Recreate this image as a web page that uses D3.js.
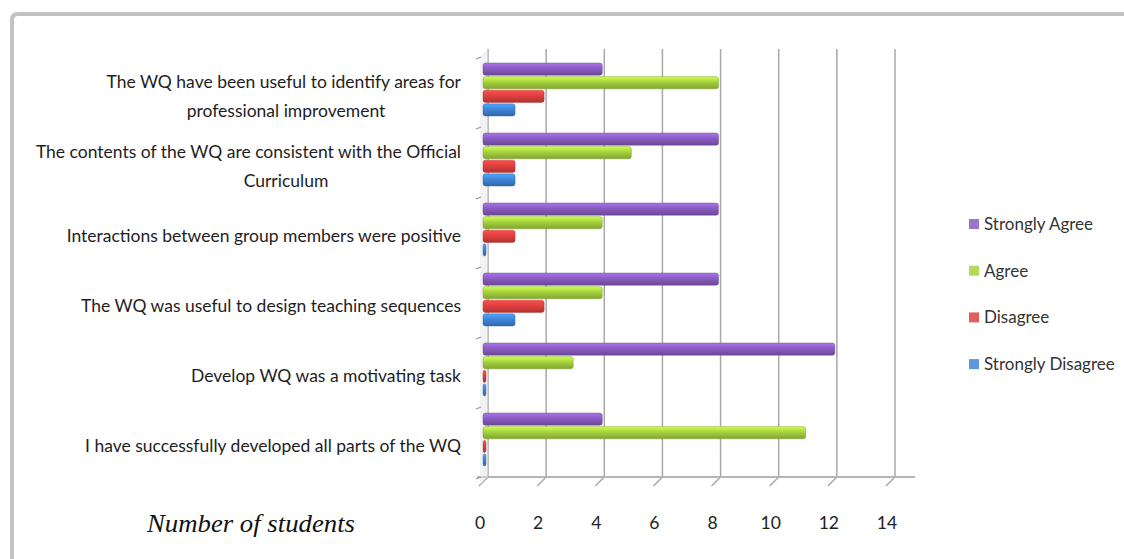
<!DOCTYPE html>
<html>
<head>
<meta charset="utf-8">
<script src="https://cdn.jsdelivr.net/npm/d3@7"></script>
<style>
  body { margin: 0; background: #fff; }
  svg { display: block; }
</style>
</head>
<body>
<svg id="chart" width="1124" height="559"></svg>
<script>
// categories, top to bottom (each entry = lines of the label)
const categories = [
  ["The WQ have been useful to identify areas for", "professional improvement"],
  ["The contents of the WQ are consistent with the Official", "Curriculum"],
  ["Interactions between group members were positive"],
  ["The WQ was useful to design teaching sequences"],
  ["Develop WQ was a motivating task"],
  ["I have successfully developed all parts of the WQ"]
];
const seriesNames = ["Strongly Agree", "Agree", "Disagree", "Strongly Disagree"];
const stronglyAgree = [4, 8, 8, 8, 12, 4];
const agree = [8, 5, 4, 4, 3, 11];
const disagree = [2, 1, 1, 2, 0, 0];
const stronglyDisagree = [1, 1, 0, 1, 0, 0];
const xTicks = [0, 2, 4, 6, 8, 10, 12, 14];
const colors = ["#8a5cc2", "#a6d23f", "#e0403f", "#3f86d8"];

const seriesValues = [stronglyAgree, agree, disagree, stronglyDisagree];

const svg = d3.select("#chart");
const top_y = 57, bottom_y = 477;
const depth = 5; // fake 3d offset

// outer frame
svg.append("path")
  .attr("d", "M12,559 L12,20 Q12,14 18,14 L1124,14")
  .attr("fill", "none")
  .attr("stroke", "#c2c2c2")
  .attr("stroke-width", 4);

const x = d3.scaleLinear().domain([0, 14]).range([483, 483 + 14 * 29.07]);
const y = d3.scaleBand().domain(d3.range(categories.length)).range([top_y, bottom_y]);
const yInner = d3.scaleBand().domain(d3.range(seriesNames.length))
  .range([6, y.bandwidth() - 11]).paddingInner(0.1);

// gradients for bar shading
const defs = svg.append("defs");
colors.forEach((c, i) => {
  const g = defs.append("linearGradient").attr("id", "grad" + i)
    .attr("x1", 0).attr("y1", 0).attr("x2", 0).attr("y2", 1);
  g.append("stop").attr("offset", "0%").attr("stop-color", d3.color(c).brighter(0.6));
  g.append("stop").attr("offset", "45%").attr("stop-color", c);
  g.append("stop").attr("offset", "100%").attr("stop-color", d3.color(c).darker(0.7));
});

// gridlines (back wall) + slanted floor ticks
const grid = svg.append("g");
grid.selectAll("line.v")
  .data(xTicks.slice(1))
  .join("line")
  .attr("x1", d => x(d) + depth).attr("x2", d => x(d) + depth)
  .attr("y1", top_y - 8).attr("y2", bottom_y)
  .attr("stroke", "#a8a8a8").attr("stroke-width", 1.5);
grid.selectAll("line.s")
  .data(xTicks)
  .join("line")
  .attr("x1", d => x(d) - 4).attr("x2", d => x(d) + depth)
  .attr("y1", bottom_y + 9).attr("y2", bottom_y)
  .attr("stroke", "#a8a8a8").attr("stroke-width", 1.5);

// floor line
svg.append("line")
  .attr("x1", x(0) - 6).attr("x2", 915)
  .attr("y1", bottom_y).attr("y2", bottom_y)
  .attr("stroke", "#b5b5b5").attr("stroke-width", 2);

// left wall / axis
svg.append("line")
  .attr("x1", x(0) + depth).attr("x2", x(0) + depth)
  .attr("y1", top_y - 8).attr("y2", bottom_y)
  .attr("stroke", "#a8a8a8").attr("stroke-width", 1.5);
svg.append("polygon")
  .attr("points", [[x(0) - 3, bottom_y + 8], [x(0) + depth, bottom_y], [x(0) + depth, top_y - 8], [x(0) - 3, top_y]].join(" "))
  .attr("fill", "#e6e6e6").attr("opacity", 0.5);
svg.selectAll("line.yt")
  .data(d3.range(categories.length + 1))
  .join("line")
  .attr("x1", x(0) - 7).attr("x2", x(0) - 2)
  .attr("y1", d => top_y + d * y.bandwidth() + 2)
  .attr("y2", d => top_y + d * y.bandwidth())
  .attr("stroke", "#999").attr("stroke-width", 1.2);

// bars
const groups = svg.append("g").selectAll("g")
  .data(categories.map((c, i) => i))
  .join("g")
  .attr("transform", i => `translate(0,${y(i)})`);

groups.selectAll("rect")
  .data(i => seriesValues.map((vals, s) => ({ s: s, v: vals[i] })))
  .join("rect")
  .attr("x", x(0))
  .attr("y", d => yInner(d.s))
  .attr("width", d => x(d.v) - x(0) + 3)
  .attr("height", yInner.bandwidth())
  .attr("rx", 2.5)
  .attr("fill", d => `url(#grad${d.s})`)
  .attr("stroke", d => d3.color(colors[d.s]).darker(0.9))
  .attr("stroke-opacity", 0.5)
  .attr("stroke-width", 0.8);

// category labels
const labels = svg.append("g")
  .attr("font-family", "Lato, 'Open Sans', sans-serif")
  .attr("font-size", 17.5)
  .attr("fill", "#1e1e1e");
categories.forEach((lines, i) => {
  const cy = y(i) + y.bandwidth() / 2 + 4;
  lines.forEach((line, k) => {
    const wrapped = lines.length > 1 && k > 0;
    labels.append("text")
      .attr("x", wrapped ? 286 : 461)
      .attr("y", cy + (k - (lines.length - 1) / 2) * 29)
      .attr("dy", "0.35em")
      .attr("text-anchor", wrapped ? "middle" : "end")
      .text(line);
  });
});

// x tick labels
svg.append("g")
  .attr("font-family", "Lato, 'Open Sans', sans-serif")
  .attr("font-size", 17.5)
  .attr("fill", "#222")
  .attr("text-anchor", "middle")
  .selectAll("text")
  .data(xTicks)
  .join("text")
  .attr("x", d => x(d) - 3)
  .attr("y", 523)
  .attr("dy", "0.35em")
  .text(d => d);

// axis title
svg.append("text")
  .attr("x", 147).attr("y", 523)
  .attr("dy", "0.35em")
  .attr("font-family", "'Liberation Serif', 'Times New Roman', serif")
  .attr("font-style", "italic")
  .attr("font-size", 25)
  .attr("textLength", 208)
  .attr("lengthAdjust", "spacingAndGlyphs")
  .attr("fill", "#111")
  .text("Number of students");

// legend
const legend = svg.append("g")
  .attr("font-family", "Lato, 'Open Sans', sans-serif")
  .attr("font-size", 17)
  .attr("fill", "#333");
const leg = legend.selectAll("g")
  .data(seriesNames)
  .join("g")
  .attr("transform", (d, i) => `translate(969,${224 + i * 46.7})`);
leg.append("rect")
  .attr("x", 0).attr("y", -5).attr("width", 10).attr("height", 10)
  .attr("fill", (d, i) => colors[i]).attr("opacity", 0.85);
leg.append("text")
  .attr("x", 15).attr("dy", "0.35em")
  .text(d => d);
</script>
</body>
</html>
